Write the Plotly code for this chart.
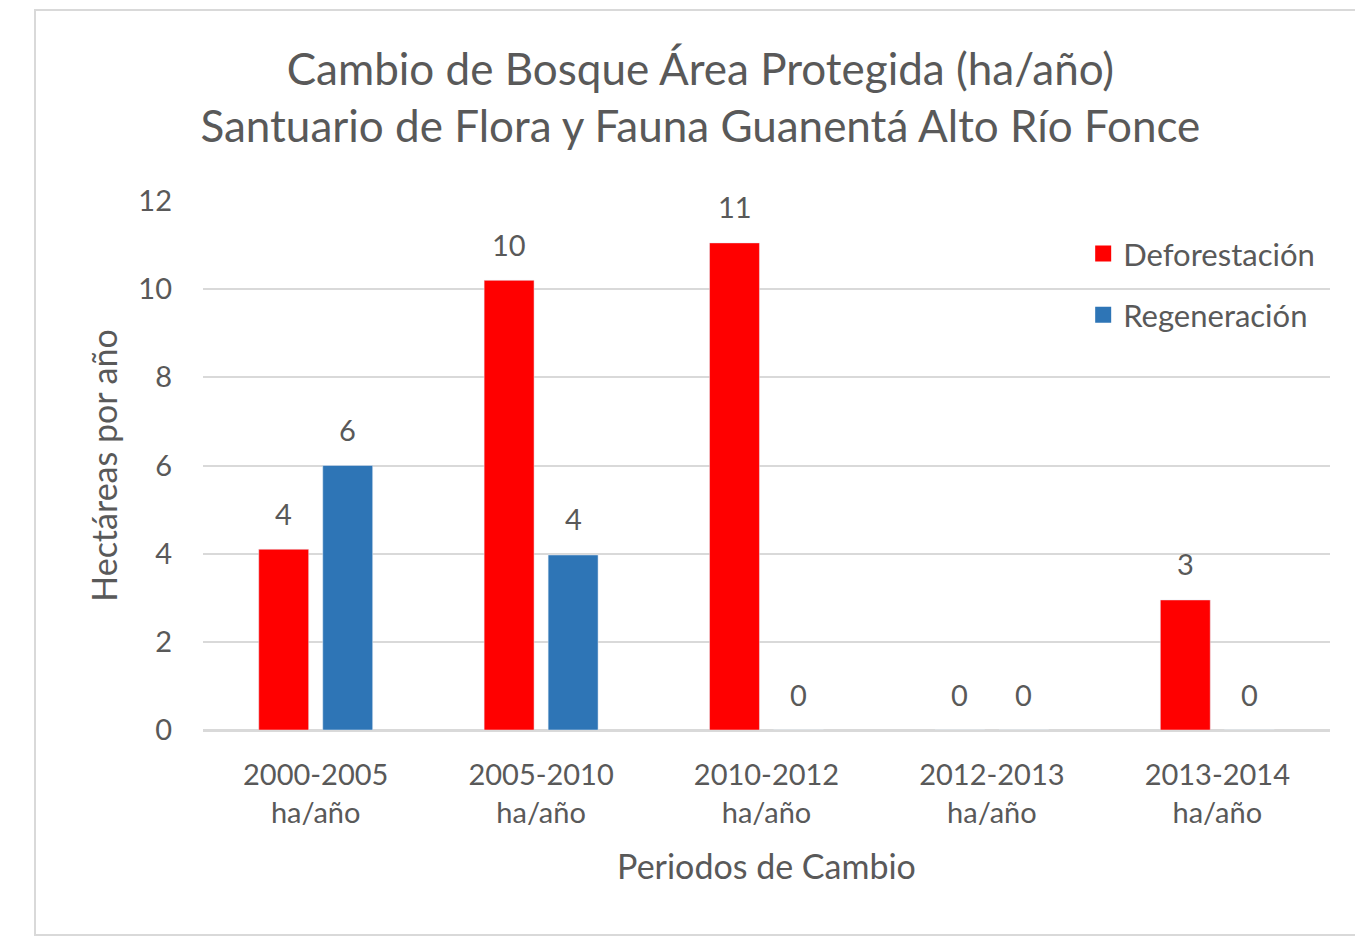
import plotly.graph_objects as go

categories = ["2000-2005<br>ha/año", "2005-2010<br>ha/año", "2010-2012<br>ha/año",
              "2012-2013<br>ha/año", "2013-2014<br>ha/año"]
deforestacion = [4.1, 10.2, 11.05, 0, 2.95]
regeneracion = [6.0, 3.97, 0, 0, 0]
y_ticks = [0, 2, 4, 6, 8, 10, 12]

FONT = "Lato, 'Open Sans', sans-serif"
TXT = "#595959"
RED = "#FF0000"
BLUE = "#2E75B6"

fig = go.Figure()
fig.add_trace(go.Bar(name="Deforestación", x=categories, y=deforestacion,
                     marker=dict(color=RED), showlegend=False))
fig.add_trace(go.Bar(name="Regeneración", x=categories, y=regeneracion,
                     marker=dict(color=BLUE), showlegend=False))
# legend entries with larger square swatches
fig.add_trace(go.Scatter(name="Deforestación", x=[None], y=[None], mode="markers",
                         marker=dict(symbol="square", size=18, color=RED), legendgroup="a"))
fig.add_trace(go.Scatter(name="Regeneración", x=[None], y=[None], mode="markers",
                         marker=dict(symbol="square", size=18, color=BLUE), legendgroup="b"))

annotations = []
for series, shift in ((deforestacion, -32), (regeneracion, 32)):
    for cat, val in zip(categories, series):
        annotations.append(dict(x=cat, y=val, xref="x", yref="y", text=f"{val:.0f}",
                                showarrow=False, xshift=shift, yshift=36, yanchor="middle",
                                font=dict(size=29, color=TXT, family=FONT)))

fig.update_layout(
    width=1355, height=935,
    margin=dict(l=195, r=33, t=193, b=213),
    paper_bgcolor="white", plot_bgcolor="white",
    font=dict(family=FONT, color=TXT, size=29),
    title=dict(text="Cambio de Bosque Área Protegida (ha/año)<br>Santuario de Flora y Fauna Guanentá Alto Río Fonce",
               x=0.511, xanchor="center", y=0.918, yanchor="middle",
               font=dict(size=44, color=TXT, family=FONT)),
    barmode="group", bargap=0.432, bargroupgap=0.22,
    showlegend=True,
    legend=dict(x=0.781, xanchor="left", y=0.951, yanchor="top",
                bgcolor="rgba(0,0,0,0)", traceorder="grouped", itemsizing="trace",
                tracegroupgap=18, font=dict(size=31, color=TXT, family=FONT),
                itemwidth=30),
    annotations=annotations,
    xaxis=dict(title=dict(text="Periodos de Cambio", font=dict(size=34, color=TXT), standoff=28),
               showline=True, linecolor="#d9d9d9", linewidth=2,
               tickfont=dict(size=29, color=TXT), ticks="", ticklabelstandoff=18),
    yaxis=dict(title=dict(text="Hectáreas por año", font=dict(size=34, color=TXT), standoff=10),
               range=[0, 12], tickvals=y_ticks, showgrid=True, gridcolor="#d9d9d9",
               gridwidth=2, zeroline=True, zerolinecolor="#d9d9d9", zerolinewidth=2,
               tickfont=dict(size=29, color=TXT), ticks="", ticklabelstandoff=30),
    shapes=[dict(type="rect", xref="paper", yref="paper",
                 x0=(35 - 203) / 1127, x1=1.2, y0=(730 - 935) / 529, y1=(730 - 10) / 529,
                 line=dict(color="#d9d9d9", width=2), fillcolor="rgba(0,0,0,0)", layer="below")],
)

fig.write_html("out.html")
